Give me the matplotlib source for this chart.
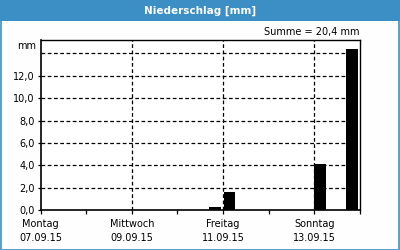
import matplotlib
matplotlib.use("Agg")
import matplotlib.pyplot as plt
from matplotlib.patches import Rectangle

# Data: bar start times (days after 07.09.15 00:00), precipitation in mm
bar_start_days = [3.70, 4.01, 6.00, 6.70]
bar_values = [0.3, 1.6, 4.1, 14.4]
bar_width_days = 0.255
day_names = ["Montag", "Mittwoch", "Freitag", "Sonntag"]
day_dates = ["07.09.15", "09.09.15", "11.09.15", "13.09.15"]
major_days = [0, 2, 4, 6]
minor_days = [1, 3, 5, 7]
y_ticks = [0, 2, 4, 6, 8, 10, 12]
y_grid = [2, 4, 6, 8, 10, 12, 14]
title = "Niederschlag [mm]"
summe = "Summe = 20,4 mm"

blue = "#3b8fc5"
W, H = 400, 250
fig = plt.figure(figsize=(4, 2.5), dpi=100)
fig.patch.set_facecolor("#fdfefd")

# header band and border
fig.add_artist(Rectangle((0, 1 - 21 / H), 1, 21 / H, transform=fig.transFigure,
                         facecolor=blue, edgecolor="none", zorder=0))
fig.add_artist(Rectangle((0.5 / W, 0.5 / H), 1 - 1.5 / W, 1 - 1 / H, transform=fig.transFigure,
                         facecolor="none", edgecolor=blue, lw=1.2, zorder=5))
fig.text(0.5, 1 - 10.5 / H, title, color="white", fontweight="bold",
         fontsize=7.5, ha="center", va="center", family="DejaVu Sans")

left, right, top, bottom = 40.5, 360, 40.3, 210.3
ax = fig.add_axes([left / W, 1 - bottom / H, (right - left) / W, (bottom - top) / H])
ax.set_facecolor("white")
ax.set_xlim(0, 7)
ax.set_ylim(0, 15.16)

ax.bar(bar_start_days, bar_values, width=bar_width_days, align="edge",
       color="black", zorder=3)

for y in y_grid:
    ax.axhline(y, color="black", lw=0.9, ls=(0, (3, 2)), zorder=1)
for d in major_days[1:]:
    ax.axvline(d, color="black", lw=0.9, ls=(0, (3, 2)), zorder=1)

ax.set_yticks(y_ticks)
ax.set_yticklabels([f"{v:.1f}".replace(".", ",") for v in y_ticks], fontsize=7)
ax.set_xticks(major_days)
ax.set_xticklabels([f"{n}\n{d}" for n, d in zip(day_names, day_dates)],
                   fontsize=7, linespacing=1.6)
ax.set_xticks(minor_days, minor=True)
ax.tick_params(axis="x", which="both", length=3, width=0.9, color="black",
               direction="out", pad=3)
ax.tick_params(axis="y", which="both", length=2, width=0.9, direction="out", pad=2)

for side in ["left", "bottom"]:
    ax.spines[side].set_linewidth(1.2)
ax.spines["top"].set_linewidth(1.0)
ax.spines["right"].set_linewidth(1.0)

fig.text(36 / W, 1 - 46 / H, "mm", fontsize=7, ha="right", va="center")
fig.text(360 / W, 1 - 32 / H, summe, fontsize=7, ha="right", va="center")

fig.savefig("out.png", dpi=100, facecolor=fig.get_facecolor())
